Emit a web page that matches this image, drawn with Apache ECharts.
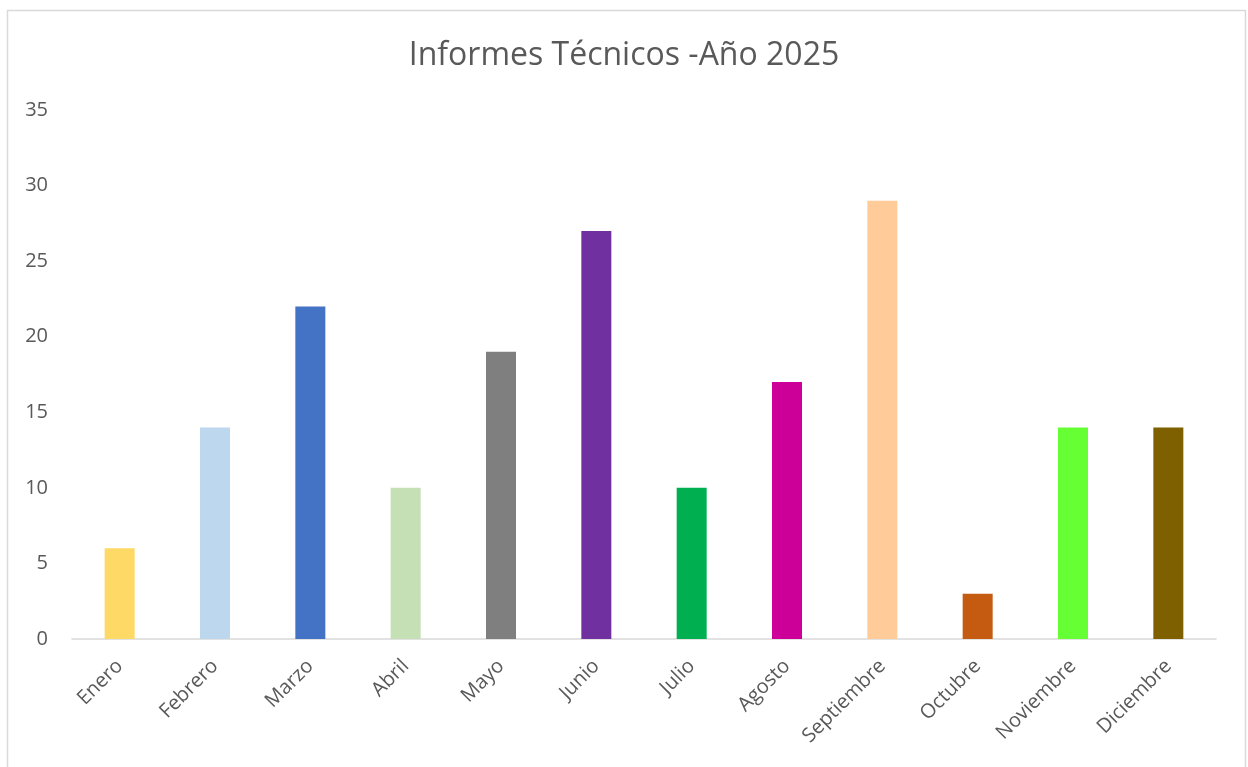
<!DOCTYPE html>
<html><head><meta charset="utf-8">
<script src="https://cdn.jsdelivr.net/npm/echarts@6/dist/echarts.min.js"></script>
<style>html,body{margin:0;padding:0;background:#fff}#c{width:1248px;height:767px}</style>
</head><body><div id="c"></div>
<script>
const titleText = 'Informes Técnicos -Año 2025';
const months = ['Enero','Febrero','Marzo','Abril','Mayo','Junio','Julio','Agosto','Septiembre','Octubre','Noviembre','Diciembre'];
const values = [6,14,22,10,19,27,10,17,29,3,14,14];
const colors = ['#FFD966','#BDD7EE','#4472C4','#C5E0B4','#7F7F7F','#7030A0','#00B050','#CC0099','#FFCC99','#C55A11','#66FF33','#7F6000'];
const yTicks = {min:0, max:35, interval:5};
const font = '"Open Sans", "Noto Sans", sans-serif';
const chart = echarts.init(document.getElementById('c'));
chart.setOption({
  animation:false,
  title:{text:titleText,left:'center',top:35,textStyle:{fontFamily:font,fontSize:32,fontWeight:'normal',color:'#595959'}},
  graphic:[{type:'rect',shape:{x:7.5,y:10.5,width:1238,height:800},style:{fill:'none',stroke:'#d9d9d9',lineWidth:1.5},silent:true}],
  grid:{left:72,right:32,top:110,bottom:128,containLabel:false},
  xAxis:{type:'category',data:months,
    axisLine:{lineStyle:{color:'#d9d9d9',width:1.5}},axisTick:{show:false},
    axisLabel:{rotate:45,interval:0,fontFamily:font,fontSize:20,color:'#595959',margin:24}},
  yAxis:{type:'value',min:yTicks.min,max:yTicks.max,interval:yTicks.interval,
    splitLine:{show:false},axisLine:{show:false},axisTick:{show:false},
    axisLabel:{fontFamily:font,fontSize:20,color:'#595959',margin:24}},
  series:[{type:'bar',barWidth:30,data:values.map((v,i)=>({value:v,itemStyle:{color:colors[i]}}))}]
});
</script></body></html>
